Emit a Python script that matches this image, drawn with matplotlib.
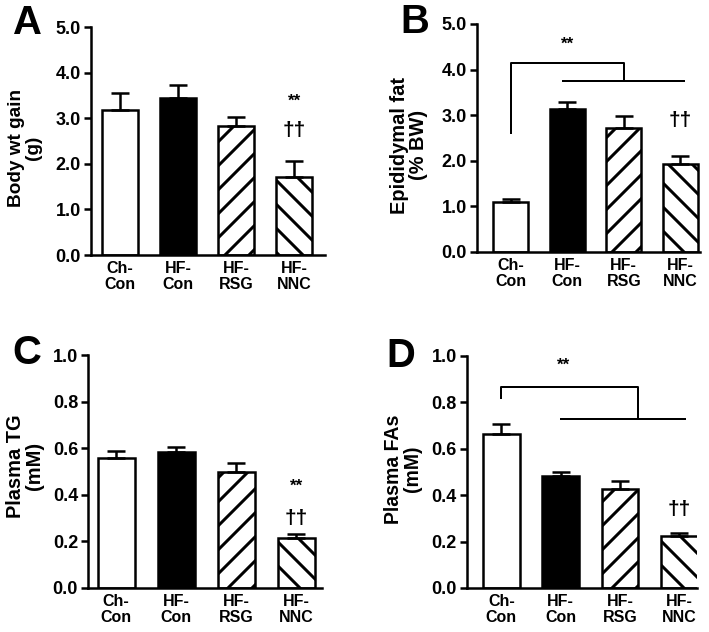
import matplotlib
matplotlib.use("Agg")
import matplotlib.pyplot as plt
import numpy as np

plt.rcParams['font.family'] = ['Liberation Sans', 'DejaVu Sans']
plt.rcParams['font.weight'] = 'bold'
plt.rcParams['hatch.linewidth'] = 3.0
plt.rcParams['hatch.color'] = 'black'

groups = ["Ch-\nCon", "HF-\nCon", "HF-\nRSG", "HF-\nNNC"]

a_mean = [3.18, 3.45, 2.83, 1.70]
a_sem = [0.38, 0.27, 0.20, 0.37]
b_mean = [1.10, 3.14, 2.71, 1.92]
b_sem = [0.07, 0.16, 0.28, 0.19]
c_mean = [0.56, 0.582, 0.50, 0.216]
c_sem = [0.027, 0.024, 0.037, 0.016]
d_mean = [0.663, 0.483, 0.427, 0.224]
d_sem = [0.045, 0.017, 0.035, 0.013]

W, H = 709, 632
DPI = 72
fig = plt.figure(figsize=(W / DPI, H / DPI), dpi=DPI)

faces = ['white', 'black', 'white', 'white']
hatches = [None, None, '/', '\\']


def make_ax(x0, x1, ytop, ybot):
    return fig.add_axes([x0 / W, (H - ybot) / H, (x1 - x0) / W, (ybot - ytop) / H])


def draw(ax, means, sems, ymax, step, xlim):
    x = np.arange(len(groups))
    for i in range(len(groups)):
        ax.bar(x[i], means[i], width=0.62, color=faces[i], edgecolor='black',
               linewidth=2.5, hatch=hatches[i], zorder=2)
    ax.errorbar(x, means, yerr=[np.zeros(len(means)), sems], fmt='none',
                ecolor='black', elinewidth=2.5, capsize=9, capthick=2.5, zorder=3)
    ax.set_xlim(*xlim)
    ax.set_ylim(0, ymax)
    ticks = np.arange(0, ymax + step / 2, step)
    ax.set_yticks(ticks)
    ax.set_yticklabels([f"{v:.1f}" for v in ticks], fontsize=18, fontweight='bold')
    ax.set_xticks(x)
    ax.set_xticklabels(groups, fontsize=16, fontweight='bold', linespacing=1.05)
    ax.tick_params(axis='x', length=0, pad=6)
    ax.tick_params(axis='y', length=7, width=2.5, pad=3)
    for s in ['top', 'right']:
        ax.spines[s].set_visible(False)
    for s in ['left', 'bottom']:
        ax.spines[s].set_linewidth(2.5)
    ax.patch.set_alpha(0)
    return ax


axA = draw(make_ax(91, 325, 27, 255), a_mean, a_sem, 5.0, 1.0, (-0.5, 3.53))
axB = draw(make_ax(477, 700, 24, 252), b_mean, b_sem, 5.0, 1.0, (-0.6, 3.35))
axC = draw(make_ax(88, 322, 355, 588), c_mean, c_sem, 1.0, 0.2, (-0.47, 3.43))
axD = draw(make_ax(467, 697, 356, 588), d_mean, d_sem, 1.0, 0.2, (-0.58, 3.3))

# annotations
axA.text(3, 3.38, "**", ha='center', va='center', fontsize=17, fontweight='bold')
axA.text(3, 2.72, "††", ha='center', va='center', fontsize=21, fontweight='bold')
axC.text(3, 0.435, "**", ha='center', va='center', fontsize=17, fontweight='bold')
axC.text(3, 0.30, "††", ha='center', va='center', fontsize=21, fontweight='bold')
axB.text(3, 2.88, "††", ha='center', va='center', fontsize=21, fontweight='bold')
axD.text(3, 0.34, "††", ha='center', va='center', fontsize=21, fontweight='bold')

# brackets
axB.plot([0, 0, 2.0, 2.0], [2.6, 4.15, 4.15, 3.74], color='black', lw=2, clip_on=False)
axB.plot([0.93, 3.07], [3.74, 3.74], color='black', lw=2, clip_on=False)
axB.text(1.0, 4.56, "**", ha='center', va='center', fontsize=17, fontweight='bold')

axD.plot([0, 0, 2.3, 2.3], [0.817, 0.868, 0.868, 0.727], color='black', lw=2, clip_on=False)
axD.plot([1.0, 3.1], [0.727, 0.727], color='black', lw=2, clip_on=False)
axD.text(1.05, 0.962, "**", ha='center', va='center', fontsize=17, fontweight='bold')


# y labels
def ylab(xp, yp, s, fs):
    fig.text(xp / W, (H - yp) / H, s, rotation=90, ha='center', va='center',
             fontsize=fs, fontweight='bold', multialignment='center', linespacing=1.05)


ylab(25, 148, "Body wt gain\n(g)", 19)
ylab(409, 145, "Epididymal fat\n(% BW)", 20)
ylab(25, 466, "Plasma TG\n(mM)", 20)
ylab(403, 469, "Plasma FAs\n(mM)", 19.5)

# panel letters
for xp, yp, s in [(27, 23, "A"), (415, 22, "B"), (27, 353, "C"), (401, 356, "D")]:
    fig.text(xp / W, (H - yp) / H, s, ha='center', va='center', fontsize=40,
             fontweight='bold')

fig.savefig("out.png", dpi=DPI)
